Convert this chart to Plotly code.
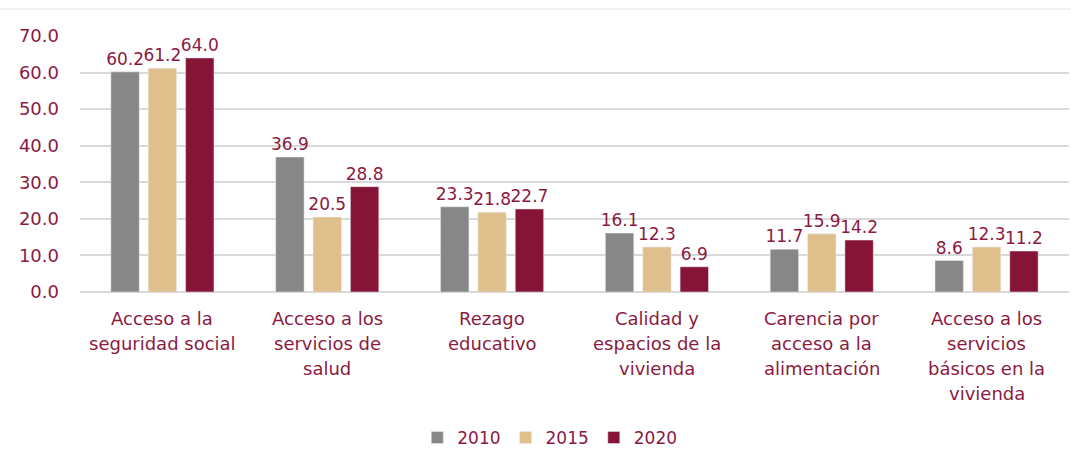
import plotly.graph_objects as go

categories = ["Acceso a la seguridad social", "Acceso a los servicios de salud",
              "Rezago educativo", "Calidad y espacios de la vivienda",
              "Carencia por acceso a la alimentación",
              "Acceso a los servicios básicos en la vivienda"]
category_lines = [["Acceso a la", "seguridad social"],
                  ["Acceso a los", "servicios de", "salud"],
                  ["Rezago", "educativo"],
                  ["Calidad y", "espacios de la", "vivienda"],
                  ["Carencia por", "acceso a la", "alimentación"],
                  ["Acceso a los", "servicios", "básicos en la", "vivienda"]]
years = ["2010", "2015", "2020"]
v2010 = [60.2, 36.9, 23.3, 16.1, 11.7, 8.6]
v2015 = [61.2, 20.5, 21.8, 12.3, 15.9, 12.3]
v2020 = [64.0, 28.8, 22.7, 6.9, 14.2, 11.2]
colors = ["#878787", "#DFC08C", "#861436"]
text_color = "#8B1A42"
font_family = "DejaVu Sans, Verdana, sans-serif"

fig = go.Figure()
for name, vals, col in zip(years, [v2010, v2015, v2020], colors):
    fig.add_trace(go.Bar(
        x=categories, y=vals, name=name, marker_color=col,
        text=[f"{v:.1f}" for v in vals], textposition="outside",
        constraintext="none",
        textfont=dict(color=text_color, size=17, family=font_family),
        cliponaxis=False,
    ))

for cat, lines in zip(categories, category_lines):
    for i, ln in enumerate(lines):
        fig.add_annotation(x=cat, y=0, xref="x", yref="y", text=ln,
                           showarrow=False, yanchor="middle",
                           yshift=-26 - 25 * i,
                           font=dict(color=text_color, size=18, family=font_family))

fig.update_layout(
    width=1071, height=452,
    margin=dict(l=80, r=2, t=36, b=160, autoexpand=False),
    paper_bgcolor="white", plot_bgcolor="white",
    barmode="group", bargap=0.32, bargroupgap=0.24,
    font=dict(family=font_family, color=text_color, size=16),
    legend=dict(orientation="h", xref="paper", x=0.475, xanchor="center",
                yref="paper", y=-0.5, yanchor="top",
                font=dict(size=17, color=text_color), itemwidth=30,
                traceorder="normal"),
    uniformtext=dict(mode=False),
)
fig.update_xaxes(showticklabels=False, showline=False, ticks="")
fig.update_yaxes(range=[0, 70], dtick=10, tickformat=".1f",
                 gridcolor="#D9D9D9", gridwidth=1.5, zeroline=True,
                 zerolinecolor="#D9D9D9", zerolinewidth=1.5,
                 tickfont=dict(size=18, color=text_color), ticks="",
                 ticklabelstandoff=20)
fig.add_shape(type="line", xref="paper", yref="paper", x0=-0.09, x1=1.01,
              y0=1.105, y1=1.105, line=dict(color="#E6E6E6", width=1))

fig.write_html("out.html", config={"displayModeBar": False},
               post_script="document.body.style.margin='0';document.body.style.overflow='hidden';")
